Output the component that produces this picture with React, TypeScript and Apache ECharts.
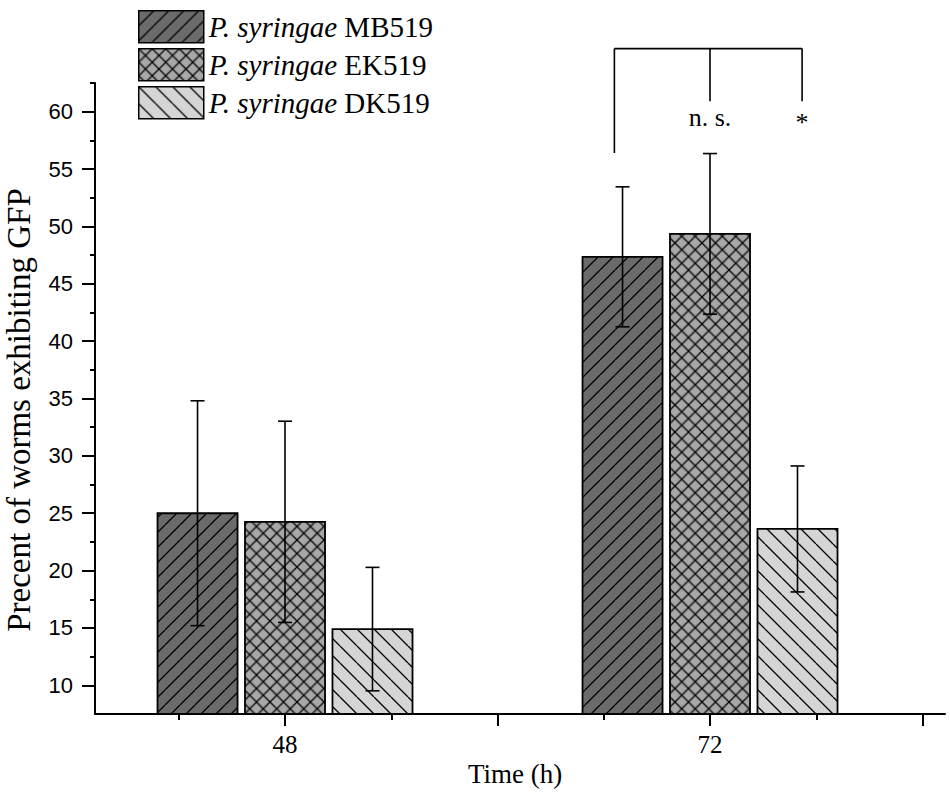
import React, { useEffect, useRef } from "react";
import * as echarts from "echarts";

// ---- data ----
const timePoints = [48, 72];
const strainNames = ["P. syringae MB519", "P. syringae EK519", "P. syringae DK519"];
const meanMB519 = [25.0, 47.35];
const sdMB519 = [9.8, 6.1];
const meanEK519 = [24.25, 49.35];
const sdEK519 = [8.77, 7.0];
const meanDK519 = [14.9, 23.63];
const sdDK519 = [5.38, 5.49];

const yMajorTicks = [10, 15, 20, 25, 30, 35, 40, 45, 50, 55, 60];
const yMinorTicks = [12.5, 17.5, 22.5, 27.5, 32.5, 37.5, 42.5, 47.5, 52.5, 57.5, 62.5];
const xMajorTicks = [48, 60, 72, 84];
const xMinorTicks = [42, 54, 66, 78];
const xLabelValues = [48, 72];

// significance bracket (data coordinates)
const bracketTopY = 65.5;
const bracketLegX = [66.6, 72, 77.2];
const bracketLegBottom = [56.4, 60.9, 60.9];
const sigLabels = ["", "n. s.", "*"];
const sigLabelY = [59.5, 59.5, 59.1];

// ---- layout / style ----
const X_MIN = 37.27;
const X_MAX = 85.27;
const Y_MIN = 7.5;
const Y_MAX = 62.5;
const BAR_STEP = 4.94; // hours between neighbouring bars
const BAR_WIDTH = 4.52; // hours
const SERIF = "'Liberation Serif', 'Times New Roman', serif";
const SANS = "'Liberation Sans', Arial, sans-serif";

function makeHatch(kind: string, bg: string, size: number) {
  const scale = 4;
  const c = document.createElement("canvas");
  c.width = size * scale;
  c.height = size * scale;
  const ctx = c.getContext("2d")!;
  ctx.scale(scale, scale);
  ctx.fillStyle = bg;
  ctx.fillRect(0, 0, size, size);
  ctx.strokeStyle = "#000";
  ctx.lineWidth = 1.3;
  ctx.beginPath();
  for (const o of [-size, 0, size]) {
    if (kind !== "back") {
      ctx.moveTo(o, size);
      ctx.lineTo(o + size, 0);
    }
    if (kind !== "fwd") {
      ctx.moveTo(o, 0);
      ctx.lineTo(o + size, size);
    }
  }
  ctx.stroke();
  return { image: c, repeat: "repeat", imageWidth: size, imageHeight: size };
}

export default function App() {
  const ref = useRef<HTMLDivElement>(null);

  useEffect(() => {
    if (!ref.current) return;
    const chart = echarts.init(ref.current, null, { renderer: "svg" });

    const patterns = [
      makeHatch("fwd", "#6b6b6b", 15),
      makeHatch("cross", "#a8a8a8", 13.5),
      makeHatch("back", "#d5d5d5", 17),
    ];
    const means = [meanMB519, meanEK519, meanDK519];
    const sds = [sdMB519, sdEK519, sdDK519];

    const barSeries = strainNames.map((name, si) => ({
      type: "custom",
      name,
      clip: false,
      itemStyle: { color: patterns[si] },
      encode: { x: 0, y: 1 },
      data: timePoints.map((t, i) => [t, means[si][i], sds[si][i]]),
      renderItem: (params: any, api: any) => {
        const t = api.value(0);
        const m = api.value(1);
        const sd = api.value(2);
        const xc = t + (si - 1) * BAR_STEP;
        const pTop = api.coord([xc, m]);
        const pBase = api.coord([xc, Y_MIN]);
        const pHi = api.coord([xc, m + sd]);
        const pLo = api.coord([xc, m - sd]);
        const halfW = api.size([BAR_WIDTH, 0])[0] / 2;
        const cap = 7;
        const lineStyle = { stroke: "#000", lineWidth: 1.6 };
        return {
          type: "group",
          children: [
            {
              type: "rect",
              shape: { x: pTop[0] - halfW, y: pTop[1], width: halfW * 2, height: pBase[1] - pTop[1] },
              style: { fill: patterns[si], stroke: "#000", lineWidth: 1.8 },
            },
            { type: "line", shape: { x1: pTop[0], y1: pHi[1], x2: pTop[0], y2: pLo[1] }, style: lineStyle },
            { type: "line", shape: { x1: pTop[0] - cap, y1: pHi[1], x2: pTop[0] + cap, y2: pHi[1] }, style: lineStyle },
            { type: "line", shape: { x1: pTop[0] - cap, y1: pLo[1], x2: pTop[0] + cap, y2: pLo[1] }, style: lineStyle },
          ],
        };
      },
    }));

    const bracketSeries = {
      type: "custom",
      name: "bracket",
      clip: false,
      silent: true,
      encode: { x: 0, y: 1 },
      data: [[72, bracketTopY]],
      renderItem: (params: any, api: any) => {
        const lineStyle = { stroke: "#000", lineWidth: 1.6 };
        const left = api.coord([bracketLegX[0], bracketTopY]);
        const right = api.coord([bracketLegX[bracketLegX.length - 1], bracketTopY]);
        const children: any[] = [
          { type: "line", shape: { x1: left[0], y1: left[1], x2: right[0], y2: right[1] }, style: lineStyle },
        ];
        bracketLegX.forEach((lx, i) => {
          const a = api.coord([lx, bracketTopY]);
          const b = api.coord([lx, bracketLegBottom[i]]);
          children.push({ type: "line", shape: { x1: a[0], y1: a[1], x2: b[0], y2: b[1] }, style: lineStyle });
          if (sigLabels[i]) {
            const p = api.coord([lx, sigLabelY[i]]);
            children.push({
              type: "text",
              x: p[0],
              y: p[1],
              style: {
                text: sigLabels[i],
                fill: "#000",
                fontFamily: SERIF,
                fontSize: 26,
                align: "center",
                verticalAlign: "middle",
              },
            });
          }
        });
        return { type: "group", children };
      },
    };

    const axisLineStyle = { color: "#000", width: 2 };

    chart.setOption({
      animation: false,
      backgroundColor: "#fff",
      grid: { left: 95, right: 5, top: 83, bottom: 82 },
      legend: {
        orient: "vertical",
        left: 133,
        top: 5,
        itemWidth: 65,
        itemHeight: 32,
        itemGap: 4.5,
        icon: "rect",
        selectedMode: false,
        data: strainNames.map((n, i) => ({
          name: n,
          itemStyle: { color: patterns[i], borderColor: "#000", borderWidth: 1.5 },
        })),
        formatter: (name: string) => `{i|P. syringae} ${name.replace("P. syringae ", "")}`,
        textStyle: {
          fontFamily: SERIF,
          fontSize: 29,
          color: "#000",
          rich: { i: { fontStyle: "italic", fontFamily: SERIF, fontSize: 29, color: "#000" } },
        },
      },
      xAxis: [
        {
          type: "value",
          position: "bottom",
          min: X_MIN,
          max: X_MAX,
          axisLine: { show: true, onZero: false, lineStyle: axisLineStyle },
          axisTick: { show: true, customValues: xMajorTicks, length: 12, lineStyle: axisLineStyle },
          axisLabel: { customValues: xLabelValues, margin: 18, fontFamily: SERIF, fontSize: 25, color: "#000" },
          splitLine: { show: false },
        },
        {
          type: "value",
          position: "bottom",
          min: X_MIN,
          max: X_MAX,
          axisLine: { show: false },
          axisTick: { show: true, customValues: xMinorTicks, length: 6, lineStyle: axisLineStyle },
          axisLabel: { show: false },
          splitLine: { show: false },
        },
      ],
      yAxis: [
        {
          type: "value",
          position: "left",
          min: Y_MIN,
          max: Y_MAX,
          axisLine: { show: true, onZero: false, lineStyle: axisLineStyle },
          axisTick: { show: true, customValues: yMajorTicks, length: 13, lineStyle: axisLineStyle },
          axisLabel: { customValues: yMajorTicks, margin: 22, fontFamily: SANS, fontSize: 22, color: "#000" },
          splitLine: { show: false },
        },
        {
          type: "value",
          position: "left",
          min: Y_MIN,
          max: Y_MAX,
          axisLine: { show: false },
          axisTick: { show: true, customValues: yMinorTicks, length: 5, lineStyle: axisLineStyle },
          axisLabel: { show: false },
          splitLine: { show: false },
        },
      ],
      graphic: [
        {
          type: "text",
          x: 515,
          y: 774,
          style: {
            text: "Time (h)",
            fill: "#000",
            fontFamily: SERIF,
            fontSize: 27,
            align: "center",
            verticalAlign: "middle",
          },
        },
        {
          type: "text",
          x: 19,
          y: 410,
          rotation: Math.PI / 2,
          style: {
            text: "Precent of worms exhibiting GFP",
            fill: "#000",
            fontFamily: SERIF,
            fontSize: 33,
            align: "center",
            verticalAlign: "middle",
          },
        },
      ],
      series: [...barSeries, bracketSeries],
    });

    return () => chart.dispose();
  }, []);

  return <div ref={ref} style={{ position: "fixed", left: 0, top: 0, width: 950, height: 796 }} />;
}
